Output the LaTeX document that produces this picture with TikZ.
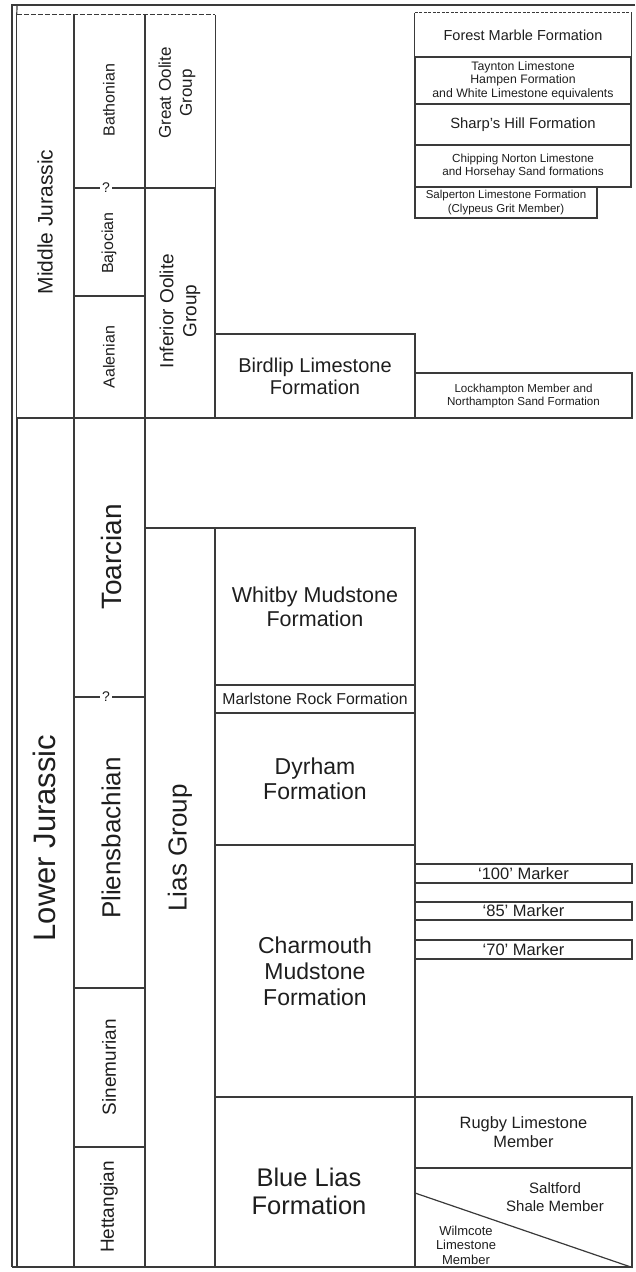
\documentclass[tikz,border=0pt]{standalone}
\usepackage{fontspec}
\setmainfont{Liberation Sans}
\definecolor{lc}{HTML}{3A3A3A}
\definecolor{tc}{HTML}{1E1E1E}
\newcommand{\fz}[2]{\fontsize{#1}{#2}\selectfont}
\begin{document}
\begin{tikzpicture}[x=1pt,y=-1pt,
  cell/.style={draw=lc,line width=1.2pt,inner sep=0pt,align=center,text=tc},
  open/.style={draw=none,inner sep=0pt,align=center,text=tc},
  lbl/.style={inner sep=0pt,align=center,text=tc},
  ln/.style={draw=lc,line width=1.2pt},
  frame/.style={draw=lc,line width=2.4pt},
  dsh/.style={draw=lc,line width=0.9pt,dash pattern=on 5pt off 2pt},
  qm/.style={fill=white,inner sep=2pt,text=tc,font=\fz{14}{14}}]
\useasboundingbox (0,0) rectangle (635,1272);
% ---------- series column ----------
\node[open,minimum width=57pt,minimum height=403pt] (mj) at (45.5,216.5) {};
\node[cell,minimum width=57pt,minimum height=849pt] (lj) at (45.5,842.5) {};
% ---------- stage column ----------
\node[open,minimum width=71pt,minimum height=173pt] (bath) at (109.5,101.5) {};
\node[cell,minimum width=71pt,minimum height=108pt] (baj) at (109.5,242) {};
\node[cell,minimum width=71pt,minimum height=122pt] (aal) at (109.5,357) {};
\node[cell,minimum width=71pt,minimum height=279pt] (toa) at (109.5,557.5) {};
\node[cell,minimum width=71pt,minimum height=291pt] (pli) at (109.5,842.5) {};
\node[cell,minimum width=71pt,minimum height=159pt] (sin) at (109.5,1067.5) {};
\node[cell,minimum width=71pt,minimum height=120pt] (het) at (109.5,1207) {};
% ---------- group column ----------
\node[open,minimum width=70pt,minimum height=173pt] (go) at (180,101.5) {};
\node[cell,minimum width=70pt,minimum height=230pt] (io) at (180,303) {};
\node[cell,minimum width=70pt,minimum height=739pt] (lg) at (180,897.5) {};
% open-topped cells
\draw[ln] (mj.north west) |- (mj.south east) -- (mj.north east);
\draw[ln] (bath.north west) |- (bath.south east) -- (bath.north east);
\draw[ln] (go.north west) |- (go.south east) -- (go.north east);
\draw[dsh] (mj.north west) -- (go.north east);
% ---------- Middle Jurassic formations ----------
\node[open,minimum width=216pt,minimum height=44pt,font=\fz{14.5}{16}] (fm) at (523,35) {Forest Marble Formation};
\draw[ln] (fm.north west) |- (fm.south east) -- (fm.north east);
\draw[draw=lc,line width=0.8pt,dash pattern=on 3pt off 1.5pt] (fm.north west) -- (fm.north east);
\node[cell,minimum width=216pt,minimum height=47pt,font=\fz{12.3}{13.5}] (ty) at (523,80.5) {Taynton Limestone\\Hampen Formation\\and White Limestone equivalents};
\node[cell,minimum width=216pt,minimum height=41pt,font=\fz{14.8}{16}] (sh) at (523,124.5) {Sharp's Hill Formation};
\node[cell,minimum width=216pt,minimum height=42pt,font=\fz{11.7}{12.5}] (ch) at (523,166) {Chipping Norton Limestone\\and Horsehay Sand formations};
\node[cell,minimum width=182pt,minimum height=31pt,font=\fz{11.5}{14}] (sa) at (506,202.5) {Salperton Limestone Formation\\(Clypeus Grit Member)};
\node[cell,minimum width=200pt,minimum height=84pt,font=\fz{20}{22}] (bl) at (315,376) {Birdlip Limestone\\Formation};
\node[cell,minimum width=217pt,minimum height=45pt,font=\fz{11.6}{13}] (lk) at (523.5,395.5) {Lockhampton Member and\\Northampton Sand Formation};
% ---------- Lias formations ----------
\node[cell,minimum width=200pt,minimum height=157pt,font=\fz{21.5}{24}] (wm) at (315,606.5) {Whitby Mudstone\\Formation};
\node[cell,minimum width=200pt,minimum height=28pt,font=\fz{15.8}{16}] (mr) at (315,699) {Marlstone Rock Formation};
\node[cell,minimum width=200pt,minimum height=132pt,font=\fz{23}{25}] (dy) at (315,779) {Dyrham\\Formation};
\node[cell,minimum width=200pt,minimum height=252pt,font=\fz{23}{26}] (cm) at (315,971) {Charmouth\\Mudstone\\Formation};
\node[cell,minimum width=200pt,minimum height=170pt] (bli) at (315,1182) {};
\node[lbl,font=\fz{25.5}{28}] (blit) at (309,1191) {Blue Lias\\Formation};
% ---------- markers ----------
\node[cell,minimum width=217pt,minimum height=19pt,font=\fz{16.5}{17}] (m100) at (523.5,873.5) {`100' Marker};
\node[cell,minimum width=217pt,minimum height=18pt,font=\fz{16.5}{17}] (m85) at (523.5,911) {`85' Marker};
\node[cell,minimum width=217pt,minimum height=19pt,font=\fz{16.5}{17}] (m70) at (523.5,949.5) {`70' Marker};
% ---------- Blue Lias members ----------
\node[cell,minimum width=217pt,minimum height=71pt,font=\fz{16.4}{19}] (rg) at (523.5,1132.5) {Rugby Limestone\\Member};
\node[cell,minimum width=217pt,minimum height=99pt] (sf) at (523.5,1217.5) {};
\coordinate (wd) at (415,1193);
\draw[ln] (wd) -- (sf.south east);
\node[lbl,font=\fz{15}{18}] (sft) at (555,1197) {Saltford\\Shale Member};
\node[lbl,font=\fz{13}{14.5}] (wct) at (466,1245) {Wilmcote\\Limestone\\Member};
% ---------- rotated labels ----------
\node[lbl,rotate=90,font=\fz{21}{24}] (mjt) at (45,222) {Middle Jurassic};
\node[lbl,rotate=90,font=\fz{31}{34}] (ljt) at (44,838) {Lower Jurassic};
\node[lbl,rotate=90,font=\fz{16}{18}] (batht) at (109,100) {Bathonian};
\node[lbl,rotate=90,font=\fz{16}{18}] (bajt) at (109,243) {Bajocian};
\node[lbl,rotate=90,font=\fz{16}{18}] (aalt) at (109,357) {Aalenian};
\node[lbl,rotate=90,font=\fz{28}{30}] (toat) at (111,557) {Toarcian};
\node[lbl,rotate=90,font=\fz{26}{28}] (plit) at (111,838) {Pliensbachian};
\node[lbl,rotate=90,font=\fz{19}{21}] (sint) at (109,1067) {Sinemurian};
\node[lbl,rotate=90,font=\fz{19}{21}] (hett) at (109,1207) {Hettangian};
\node[lbl,rotate=90,font=\fz{17}{21}] (got) at (177,93) {Great Oolite\\Group};
\node[lbl,rotate=90,font=\fz{19}{23}] (iot) at (180,311) {Inferior Oolite\\Group};
\node[lbl,rotate=90,font=\fz{26}{28}] (lgt) at (180,848) {Lias Group};
% ---------- uncertain boundaries ----------
\node[qm] (q1) at (106,188) {?};
\node[qm] (q2) at (106,697) {?};
% ---------- outer frame ----------
\coordinate (tl) at (12,5);
\coordinate (tr) at (635,5);
\coordinate (bl0) at (12,1267);
\coordinate (br) at (632,1267);
\draw[frame] (tr) -- (tl) -- (bl0);
\draw[draw=lc,line width=2pt] (bl0) -- (br);
\draw[ln] (17,5) -- (mj.north west);
\end{tikzpicture}
\end{document}
